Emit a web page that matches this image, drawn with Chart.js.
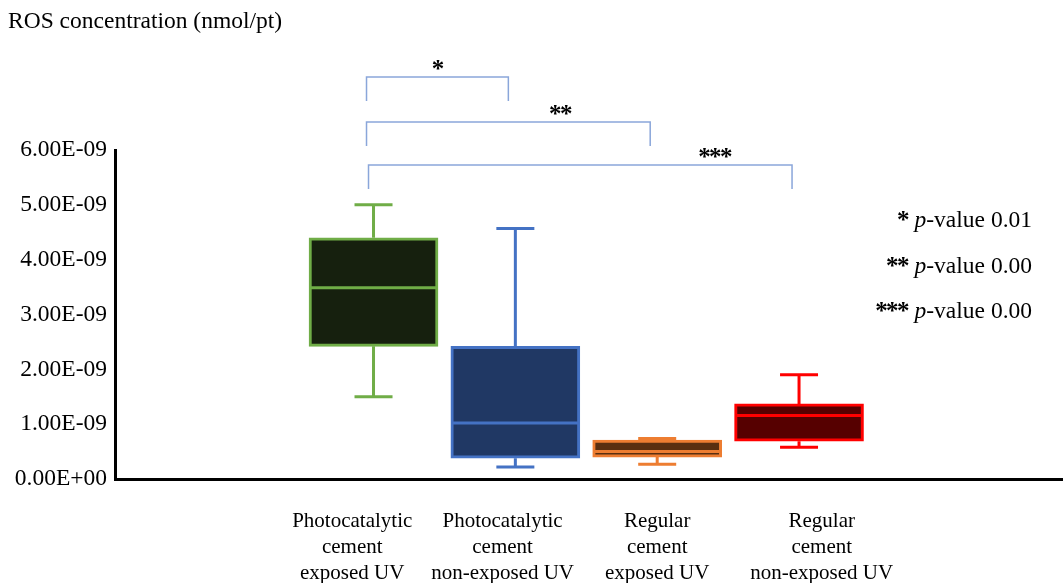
<!DOCTYPE html>
<html>
<head>
<meta charset="utf-8">
<title>ROS concentration box plot</title>
<script src="https://cdn.jsdelivr.net/npm/chart.js@4.4.1/dist/chart.umd.min.js"></script>
<style>
  html, body { margin: 0; padding: 0; background: #fff; }
  #wrap { position: relative; width: 1063px; height: 583px; }
</style>
</head>
<body>
<div id="wrap"><canvas id="boxChart"></canvas></div>
<script>
/* data */
const categories = [
  ['Photocatalytic', 'cement', 'exposed UV'],
  ['Photocatalytic', 'cement', 'non-exposed UV'],
  ['Regular', 'cement', 'exposed UV'],
  ['Regular', 'cement', 'non-exposed UV']
];
const whiskerMin = [1.50e-9, 0.22e-9, 0.27e-9, 0.58e-9];
const q1 = [2.42e-9, 0.38e-9, 0.40e-9, 0.69e-9];
const median = [3.49e-9, 1.02e-9, 0.50e-9, 1.16e-9];
const q3 = [4.40e-9, 2.42e-9, 0.71e-9, 1.37e-9];
const whiskerMax = [5.00e-9, 4.57e-9, 0.74e-9, 1.90e-9];

const yTicks = [0, 1e-9, 2e-9, 3e-9, 4e-9, 5e-9, 6e-9];
const yTickLabels = ['0.00E+00', '1.00E-09', '2.00E-09', '3.00E-09', '4.00E-09', '5.00E-09', '6.00E-09'];

const comparisons = [
  { from: 0, to: 1, stars: '*' },
  { from: 0, to: 2, stars: '**' },
  { from: 0, to: 3, stars: '***' }
];
const pValues = ['0.01', '0.00', '0.00'];

/* styling */
const borderColors = ['#70AD47', '#4472C4', '#ED7D31', '#FF0000'];
const fillColors = ['#16200E', '#203864', '#5A2F10', '#560000'];
const labelNudge = [-0.15, -0.09, 0, 0.16];   // category labels sit a bit off the box centres
const serif = "'Liberation Serif', 'Times New Roman', serif";
const starFont = 'bold 25px ' + serif;
const starStep = 10.8;
Chart.defaults.font.family = serif;
Chart.defaults.color = '#000';

// asterisks drawn one by one so they can be big but tightly spaced
function drawStars(ctx, stars, left, baseline) {
  ctx.save();
  ctx.font = starFont;
  ctx.textAlign = 'center';
  ctx.textBaseline = 'alphabetic';
  for (let i = 0; i < stars.length; i++) {
    ctx.fillText('*', left + starStep * (i + 0.5), baseline);
  }
  ctx.restore();
  return stars.length * starStep;
}

/* whiskers + median drawn on top of the floating bars */
const boxExtras = {
  id: 'boxExtras',
  afterDatasetsDraw(chart) {
    const { ctx, scales: { x, y } } = chart;
    ctx.save();
    ctx.lineWidth = 3;
    categories.forEach((c, i) => {
      const cx = x.getPixelForValue(i + 1);
      const half = 63;
      const cap = 19;
      ctx.strokeStyle = borderColors[i];
      ctx.beginPath();
      // upper whisker
      ctx.moveTo(cx, y.getPixelForValue(q3[i]));
      ctx.lineTo(cx, y.getPixelForValue(whiskerMax[i]));
      ctx.moveTo(cx - cap, y.getPixelForValue(whiskerMax[i]));
      ctx.lineTo(cx + cap, y.getPixelForValue(whiskerMax[i]));
      // lower whisker
      ctx.moveTo(cx, y.getPixelForValue(q1[i]));
      ctx.lineTo(cx, y.getPixelForValue(whiskerMin[i]));
      ctx.moveTo(cx - cap, y.getPixelForValue(whiskerMin[i]));
      ctx.lineTo(cx + cap, y.getPixelForValue(whiskerMin[i]));
      // median
      ctx.moveTo(cx - half, y.getPixelForValue(median[i]));
      ctx.lineTo(cx + half, y.getPixelForValue(median[i]));
      ctx.stroke();
    });
    ctx.restore();
  }
};

/* title, significance brackets and p-value notes */
const annotations = {
  id: 'annotations',
  afterDraw(chart) {
    const { ctx, scales: { x } } = chart;
    ctx.save();
    ctx.fillStyle = '#000';
    ctx.font = '23.5px ' + serif;
    ctx.textAlign = 'left';
    ctx.textBaseline = 'alphabetic';
    ctx.fillText('ROS concentration (nmol/pt)', 8, 28);

    const tops = [77, 122, 165];
    const starX = [1.455, 2.32, 3.41];
    ctx.strokeStyle = '#8AA6DA';
    ctx.lineWidth = 1.5;
    comparisons.forEach((cmp, k) => {
      const x1 = x.getPixelForValue(cmp.from + 1) - 7 + (k === 2 ? 2 : 0);
      const x2 = x.getPixelForValue(cmp.to + 1) - 7;
      const top = tops[k];
      ctx.beginPath();
      ctx.moveTo(x1, top + 24);
      ctx.lineTo(x1, top);
      ctx.lineTo(x2, top);
      ctx.lineTo(x2, top + 24);
      ctx.stroke();
      const cx = x.getPixelForValue(starX[k]);
      drawStars(ctx, cmp.stars, cx - cmp.stars.length * starStep / 2, top);
    });

    // p-value notes, right aligned with italic p
    const rows = [219, 265, 310];
    const right = 1032;
    ctx.textBaseline = 'alphabetic';
    ctx.textAlign = 'left';
    comparisons.forEach((cmp, k) => {
      const b = 'p';
      const c = '-value ' + pValues[k];
      const base = rows[k] + 8;
      const wa = cmp.stars.length * starStep + 6;
      ctx.font = '23.5px ' + serif;
      const wc = ctx.measureText(c).width;
      ctx.font = 'italic 23.5px ' + serif;
      const wb = ctx.measureText(b).width;
      const px = right - wa - wb - wc;
      drawStars(ctx, cmp.stars, px, base + 1);
      ctx.font = 'italic 23.5px ' + serif;
      ctx.fillText(b, px + wa, base);
      ctx.font = '23.5px ' + serif;
      ctx.fillText(c, px + wa + wb, base);
    });
    ctx.restore();
  }
};

const ctx = document.getElementById('boxChart').getContext('2d');
const chart = new Chart(ctx, {
  type: 'bar',
  data: {
    datasets: [{
      label: 'ROS',
      data: categories.map((c, i) => ({ x: i + 1, y: [q1[i], q3[i]] })),
      backgroundColor: fillColors,
      borderColor: borderColors,
      borderWidth: 3,
      borderSkipped: false,
      barThickness: 129
    }]
  },
  options: {
    responsive: true,
    maintainAspectRatio: false,
    animation: false,
    layout: { padding: { top: 150, right: 0, bottom: 0, left: 0 } },
    plugins: {
      legend: { display: false },
      tooltip: { enabled: false }
    },
    scales: {
      x: {
        type: 'linear',
        min: -0.8226,
        max: 5.861,
        offset: false,
        grid: { display: false, drawTicks: false },
        border: { display: true, color: '#000', width: 3 },
        afterBuildTicks: (s) => { s.ticks = categories.map((c, i) => ({ value: i + 1 + labelNudge[i] })); },
        afterFit: (s) => { s.height = 104; },
        ticks: {
          autoSkip: false,
          maxRotation: 0,
          padding: 30,
          font: { size: 21, lineHeight: 1.22 },
          callback: (v, i) => categories[i]
        }
      },
      y: {
        min: 0,
        max: 6e-9,
        grid: { display: false, drawTicks: false },
        border: { display: true, color: '#000', width: 3 },
        afterBuildTicks: (s) => { s.ticks = yTicks.map(v => ({ value: v })); },
        afterFit: (s) => { s.width = 115; },
        ticks: {
          padding: 8,
          font: { size: 23.5 },
          callback: (v, i) => yTickLabels[i]
        }
      }
    }
  },
  plugins: [boxExtras, annotations]
});
</script>
</body>
</html>
